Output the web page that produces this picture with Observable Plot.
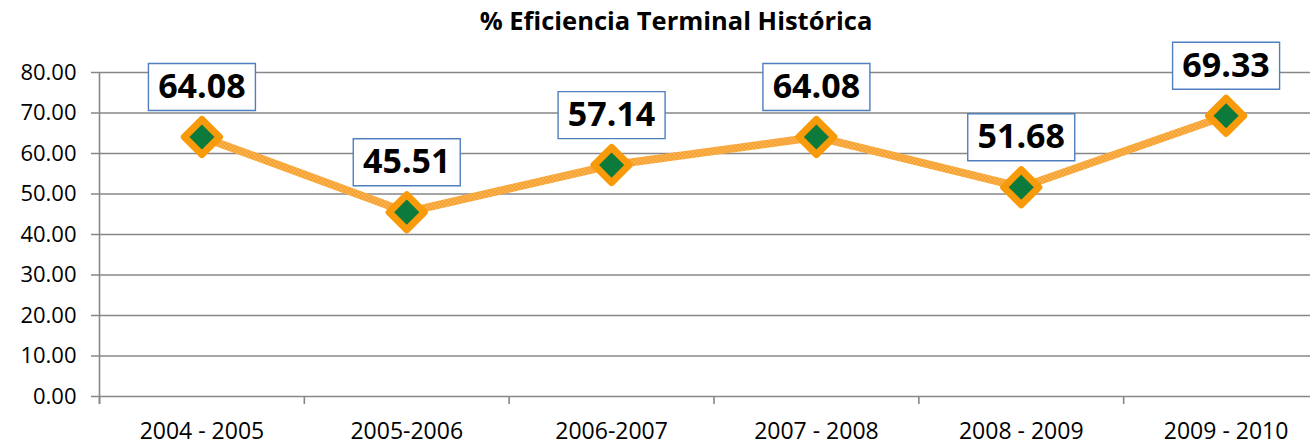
<!DOCTYPE html>
<html>
<head>
<meta charset="utf-8">
<script src="https://cdn.jsdelivr.net/npm/d3@7"></script>
<script src="https://cdn.jsdelivr.net/npm/@observablehq/plot@0.6"></script>
<style>
  html, body { margin: 0; padding: 0; background: #fff; overflow: hidden; width: 1310px; height: 445px; }
  #title { height: 40px; position: relative; font-family: "Open Sans", sans-serif; font-weight: bold; font-size: 25.5px; color: #000; }
  #title span { position: absolute; left: 676px; top: 3px; transform: translateX(-50%); white-space: nowrap; line-height: 34px; }
</style>
</head>
<body>
<div id="title"><span>% Eficiencia Terminal Histórica</span></div>
<div id="chart"></div>
<script>
const categories = ["2004 - 2005", "2005-2006", "2006-2007", "2007 - 2008", "2008 - 2009", "2009 - 2010"];
const values = [64.08, 45.51, 57.14, 64.08, 51.68, 69.33];
const valueLabels = ["64.08", "45.51", "57.14", "64.08", "51.68", "69.33"];
const yTicks = [0, 10, 20, 30, 40, 50, 60, 70, 80];

const data = categories.map((c, i) => ({i, c, v: values[i], label: valueLabels[i]}));
const bounds = d3.range(categories.length + 1).map(k => k - 0.5);

const boxSymbol = {
  draw(context) {
    context.rect(-53.5, -23.5, 107, 47);
  }
};

const chart = Plot.plot({
  width: 1310,
  height: 405,
  marginLeft: 91,
  marginRight: 0,
  marginTop: 32,
  marginBottom: 49,
  x: {type: "linear", domain: [-0.5, categories.length - 0.5], range: [99, 1328]},
  y: {domain: [0, 80]},
  style: {fontFamily: "Open Sans, sans-serif", background: "white", color: "#000"},
  marks: [
    Plot.ruleY(yTicks, {stroke: "#878787", strokeWidth: 1.6}),
    Plot.ruleX([bounds[0]], {y1: -2, y2: 80, stroke: "#878787", strokeWidth: 1.6}),
    Plot.ruleX(bounds, {y1: -2, y2: 0, stroke: "#878787", strokeWidth: 1.6}),
    Plot.axisY({ticks: yTicks, tickFormat: d => d.toFixed(2), tickSize: 0, tickPadding: 15, fontSize: 22, label: null}),
    Plot.axisX({ticks: d3.range(categories.length), tickFormat: i => categories[i], tickSize: 0, tickPadding: 26, fontSize: 23, label: null}),
    Plot.line(data, {x: "i", y: "v", stroke: "url(#hatch)", strokeWidth: 8}),
    Plot.dot(data, {x: "i", y: "v", symbol: "diamond2", r: 15.8, fill: "#0b7a3b", stroke: "#f99a0a", strokeWidth: 7, strokeLinejoin: "round"}),
    Plot.dot(data, {x: "i", y: "v", symbol: boxSymbol, r: 10, dy: -50, fill: "white", stroke: "#4f7fbf", strokeWidth: 1.4}),
    Plot.text(data, {x: "i", y: "v", text: "label", dy: -50, fontSize: 34, fontWeight: "bold", fill: "#000"})
  ]
});

// crosshatch texture for the line stroke
const defs = d3.select(chart).insert("defs", ":first-child");
const pat = defs.append("pattern").attr("id", "hatch").attr("patternUnits", "userSpaceOnUse").attr("width", 4).attr("height", 4);
pat.append("rect").attr("width", 4).attr("height", 4).attr("fill", "#f59c22");
pat.append("path").attr("d", "M0,0L4,4M4,0L0,4").attr("stroke", "#fbbd6c").attr("stroke-width", 0.8);

document.getElementById("chart").appendChild(chart);
</script>
</body>
</html>
